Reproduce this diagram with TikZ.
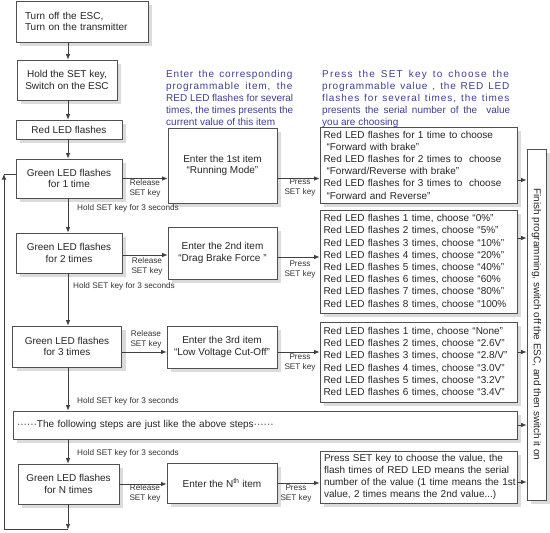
\documentclass[tikz,border=0pt]{standalone}
\usepackage{fontspec}
\setmainfont{Liberation Sans}
\usetikzlibrary{arrows.meta,shadows}
\definecolor{bluetxt}{HTML}{3E3E90}
\definecolor{edge}{HTML}{505050}
\newcommand{\fsmain}{\fontsize{10}{11.7}\selectfont}
\newcommand{\fsright}{\fontsize{10}{12.2}\selectfont}
\newcommand{\fslbl}{\fontsize{8.2}{10}\selectfont}
\newcommand{\sline}[2]{\makebox[#1][s]{#2}}
\makeatletter
\newcommand{\lsw}[2]{\@tfor\lsc:=#2\do{\lsc\kern#1\relax}}
\makeatother
\begin{document}
\begin{tikzpicture}[x=1pt,y=-1pt,
  box/.style={draw=edge, line width=0.8pt, fill=white, inner sep=0pt, align=center,
    text=black!85, font=\fsmain,
    drop shadow={shadow xshift=4pt, shadow yshift=-4pt, fill=black!14, opacity=1}},
  rbox/.style={box, font=\fsright, align=left},
  arr/.style={-{Latex[length=5.5pt,width=4.5pt]}, line width=0.7pt, draw=black!75},
  plain/.style={line width=0.7pt, draw=black!75},
  lbl/.style={font=\fslbl, align=center, inner sep=0pt, text=black!80},
  hold/.style={font=\fslbl, anchor=west, inner sep=0pt, text=black!80},
  bluet/.style={text=bluetxt, font=\fsright, inner sep=0pt, anchor=base west}
]
\useasboundingbox (0,0) rectangle (550,533);
\coordinate (col) at (68,0);

% left column
\node[box, minimum width=132pt, minimum height=41pt, text width=114pt, align=left] (t1) at (82,21.5) {Turn off the ESC,\\Turn on the transmitter};
\node[box, minimum width=100pt, minimum height=40pt] (t2) at (67,80) {Hold the SET key,\\Switch on the ESC};
\node[box, minimum width=106pt, minimum height=19pt] (t3) at (69,129.5) {Red LED flashes};
\node[box, minimum width=106pt, minimum height=39pt] (g1) at (69,178.5) {Green LED flashes\\for 1 time};
\node[box, minimum width=106pt, minimum height=40pt] (g2) at (69,253) {Green LED flashes\\for 2 times};
\node[box, minimum width=109pt, minimum height=41pt] (g3) at (67,346.5) {Green LED flashes\\for 3 times};
\node[box, minimum width=504pt, minimum height=28pt, text width=496pt, align=left] (fol) at (265,425) {······The following steps are just like the above steps······};
\node[box, minimum width=101pt, minimum height=40pt] (gN) at (68.5,484) {Green LED flashes\\for N times};

% middle column
\node[box, minimum width=109pt, minimum height=75pt] (e1) at (222.5,165.5) {Enter the 1st item\\“Running Mode”};
\node[box, minimum width=109pt, minimum height=52pt] (e2) at (222.5,253) {Enter the 2nd item\\“Drag Brake Force ”};
\node[box, minimum width=110pt, minimum height=42pt] (e3) at (222,347) {Enter the 3rd item\\“Low Voltage Cut-Off”};
\node[box, minimum width=110pt, minimum height=40pt] (eN) at (222,483) {Enter the N\textsuperscript{th} item};

% right column
\node[rbox, minimum width=197pt, minimum height=76pt, text width=190pt] (r1) at (418.5,165) {%
\sline{188pt}{Red LED flashes for 1 time to choose}\\
\hspace*{3pt}“Forward with brake”\\
\sline{188pt}{Red LED flashes for 2 times to\ \ choose}\\
\hspace*{3pt}“Forward/Reverse with brake”\\
\sline{188pt}{Red LED flashes for 3 times to\ \ choose}\\
\hspace*{3pt}“Forward and Reverse”};
\node[rbox, minimum width=197pt, minimum height=103pt, text width=190pt] (r2) at (418.5,261.5) {%
Red LED flashes 1 time, choose “0\%”\\
Red LED flashes 2 times, choose “5\%”\\
Red LED flashes 3 times, choose “10\%”\\
Red LED flashes 4 times, choose “20\%”\\
Red LED flashes 5 times, choose “40\%”\\
Red LED flashes 6 times, choose “60\%\\
Red LED flashes 7 times, choose “80\%”\\
Red LED flashes 8 times, choose “100\%};
\node[rbox, minimum width=197pt, minimum height=80pt, text width=190pt] (r3) at (418.5,362) {%
Red LED flashes 1 time, choose “None”\\
Red LED flashes 2 times, choose “2.6V”\\
Red LED flashes 3 times, choose “2.8/V”\\
Red LED flashes 4 times, choose “3.0V”\\
Red LED flashes 5 times, choose “3.2V”\\
Red LED flashes 6 times, choose “3.4V”};
\node[rbox, minimum width=197pt, minimum height=52pt, text width=189pt] (rN) at (418.5,477) {%
\sline{189pt}{Press SET key to choose the value, the}\\
\sline{189pt}{flash times of RED LED means the serial}\\
\sline{189pt}{number of the value (1 time means the 1st}\\
value, 2 times means the 2nd value...)};
\node[box, minimum width=19pt, minimum height=351pt, font=\fsright] (fin) at (536.5,324.5) {\rotatebox{-90}{Finish programming, switch off the ESC, and then switch it on}};

% blue explanations
\node[bluet] (b1) at (166,77) {\parbox[t]{127pt}{\fsright
\sline{127pt}{\lsw{0.8pt}{Enter} \lsw{0.8pt}{the} \lsw{0.8pt}{corresponding}}\\
\sline{127pt}{\lsw{0.8pt}{programmable} \lsw{0.8pt}{item,} \lsw{0.8pt}{the}}\\
\sline{127pt}{RED LED flashes for several}\\
\sline{127pt}{times, the times presents the}\\
current value of this item}};
\node[bluet] (b2) at (322,77) {\parbox[t]{188pt}{\fsright
\sline{188pt}{\lsw{1.2pt}{Press} \lsw{1.2pt}{the} \lsw{1.2pt}{SET} \lsw{1.2pt}{key} \lsw{1.2pt}{to} \lsw{1.2pt}{choose} \lsw{1.2pt}{the}}\\
\sline{188pt}{\lsw{0.8pt}{programmable} \lsw{0.8pt}{value} \lsw{0.8pt}{,} \lsw{0.8pt}{the} \lsw{0.8pt}{RED} \lsw{0.8pt}{LED}}\\
\sline{188pt}{\lsw{0.9pt}{flashes} \lsw{0.9pt}{for} \lsw{0.9pt}{several} \lsw{0.9pt}{times,} \lsw{0.9pt}{the} \lsw{0.9pt}{times}}\\
\sline{188pt}{presents the serial number of the\ \ value}\\
you are choosing}};

% vertical flow
\draw[arr] (t1.south -| col) -- (t2.north -| col);
\draw[arr] (t2.south -| col) -- (t3.north -| col);
\draw[arr] (t3.south -| col) -- (g1.north -| col);
\draw[arr] (g1.south -| col) -- (g2.north -| col);
\draw[arr] (g2.south -| col) -- (g3.north -| col);
\draw[arr] (g3.south -| col) -- (fol.north -| col);
\draw[arr] (fol.south -| col) -- (gN.north -| col);
\coordinate (bot) at (68,529.5);
\coordinate (botL) at (4,529.5);
\coordinate (topL) at (4,174);
\draw[arr] (gN.south -| col) -- (bot);
\draw[plain] (bot) -- (botL);
\draw[arr] (botL) -- (topL);
\draw[plain] (topL) -- (topL -| g1.west);

\node[hold] (h1) at (77,208) {Hold SET key for 3 seconds};
\node[hold] (h2) at (73,286) {Hold SET key for 3 seconds};
\node[hold] (h3) at (77,401) {Hold SET key for 3 seconds};
\node[hold] (h4) at (77,453) {Hold SET key for 3 seconds};

% release arrows
\draw[arr] (g1.east) -- (g1.east -| e1.west);
\draw[arr] ([yshift=-2pt]g2.east) coordinate (p2) -- (p2 -| e2.west);
\draw[arr] ([yshift=-5.5pt]g3.east) coordinate (p3) -- (p3 -| e3.west);
\draw[arr] (gN.east) -- (gN.east -| eN.west);
\node[lbl] (rl1) at (145,188) {Release\\SET key};
\node[lbl] (rl2) at (147,266) {Release\\SET key};
\node[lbl] (rl3) at (146,339) {Release\\SET key};
\node[lbl] (rl4) at (145,493) {Release\\SET key};

% press arrows
\draw[arr] (e1.east |- g1.east) -- (r1.west |- g1.east);
\draw[arr] ([yshift=-4pt]e2.east) coordinate (q2) -- (q2 -| r2.west);
\draw[arr] ([yshift=-5pt]e3.east) coordinate (q3) -- (q3 -| r3.west);
\draw[arr] (eN.east) -- (eN.east -| rN.west);
\node[lbl] (pl1) at (300,188) {Press\\SET key};
\node[lbl] (pl2) at (300,270) {Press\\SET key};
\node[lbl] (pl3) at (300,363) {Press\\SET key};
\node[lbl] (pl4) at (296,494) {Press\\SET key};

% to finish box
\draw[arr] ([yshift=-15pt]r1.east) coordinate (f1) -- (f1 -| fin.west);
\draw[arr] ([yshift=23.5pt]r2.east) coordinate (f2) -- (f2 -| fin.west);
\draw[arr] ([yshift=10pt]r3.east) coordinate (f3) -- (f3 -| fin.west);
\draw[arr] (fol.east) -- (fol.east -| fin.west);
\draw[arr] ([yshift=-5pt]rN.east) coordinate (f5) -- (f5 -| fin.west);
\end{tikzpicture}
\end{document}
